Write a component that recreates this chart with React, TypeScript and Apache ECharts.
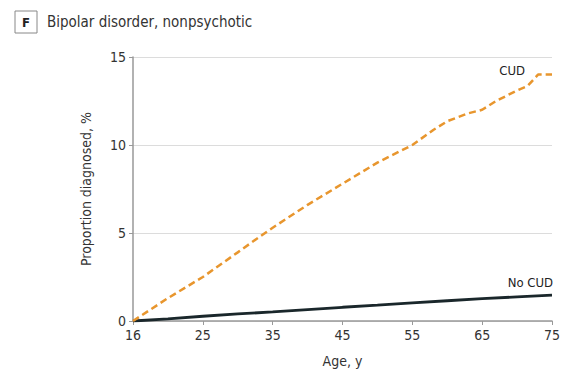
import React, { useEffect, useRef } from "react";
import * as echarts from "echarts";

const cudAges = [15, 20, 25, 30, 33, 35, 40, 45, 50, 55, 58, 60, 63, 65, 67, 70, 71.5, 73, 75];
const cudValues = [0, 1.3, 2.5, 3.9, 4.75, 5.3, 6.6, 7.8, 9.0, 10.0, 10.85, 11.35, 11.8, 12.0, 12.5, 13.1, 13.35, 14.0, 14.0];
const noCudAges = [15, 20, 25, 30, 35, 40, 45, 50, 55, 60, 65, 70, 75];
const noCudValues = [0, 0.12, 0.27, 0.4, 0.52, 0.65, 0.78, 0.9, 1.03, 1.15, 1.27, 1.37, 1.47];
const xTickLabels: Record<number, string> = { 15: "16", 25: "25", 35: "35", 45: "45", 55: "55", 65: "65", 75: "75" };
const yTicks = [0, 5, 10, 15];

const FONT = "'Liberation Sans Narrow', 'DejaVu Sans Condensed', sans-serif";

export default function App() {
  const ref = useRef<HTMLDivElement>(null);
  useEffect(() => {
    if (!ref.current) return;
    const chart = echarts.init(ref.current, null, { renderer: "svg" });
    chart.setOption({
      animation: false,
      backgroundColor: "#fff",
      textStyle: { fontFamily: FONT },
      grid: { left: 133, right: 16, top: 57, bottom: 52, containLabel: false },
      xAxis: {
        type: "value",
        min: 15,
        max: 75,
        interval: 10,
        name: "Age, y",
        nameLocation: "middle",
        nameGap: 33,
        nameTextStyle: { fontSize: 14, color: "#333", fontFamily: FONT },
        axisLine: { lineStyle: { color: "#999", width: 1.5 } },
        axisTick: { show: true, length: 4, lineStyle: { color: "#999" } },
        axisLabel: {
          fontSize: 14,
          color: "#333",
          margin: 7,
          fontFamily: FONT,
          formatter: (v: number) => xTickLabels[v] ?? "",
        },
        splitLine: { show: false },
      },
      yAxis: {
        type: "value",
        min: yTicks[0],
        max: yTicks[yTicks.length - 1],
        interval: 5,
        name: "Proportion diagnosed, %",
        nameLocation: "middle",
        nameGap: 40,
        nameRotate: 90,
        nameTextStyle: { fontSize: 14, color: "#333", fontFamily: FONT },
        axisLine: { show: true, lineStyle: { color: "#999", width: 1.5 } },
        axisTick: { show: true, length: 4, lineStyle: { color: "#999" } },
        axisLabel: { fontSize: 14, color: "#333", margin: 7, fontFamily: FONT },
        splitLine: { show: true, lineStyle: { color: "#dcdcdc", width: 1 } },
      },
      series: [
        {
          name: "No CUD",
          type: "line",
          showSymbol: false,
          data: noCudAges.map((a, i) => [a, noCudValues[i]]),
          lineStyle: { color: "#1a272b", width: 2.8 },
          z: 3,
        },
        {
          name: "CUD",
          type: "line",
          showSymbol: false,
          data: cudAges.map((a, i) => [a, cudValues[i]]),
          lineStyle: { color: "#e8962e", width: 2.5, type: [7, 4] },
          z: 4,
        },
      ],
      graphic: [
        {
          type: "rect",
          shape: { x: 15, y: 11, width: 22, height: 22 },
          style: { fill: "#fff", stroke: "#888", lineWidth: 1 },
        },
        {
          type: "text",
          x: 26,
          y: 22,
          style: {
            text: "F",
            fontSize: 13,
            fontWeight: "bold",
            fill: "#222",
            fontFamily: FONT,
            textAlign: "center",
            textVerticalAlign: "middle",
          },
        },
        {
          type: "text",
          x: 47,
          y: 22,
          style: {
            text: "Bipolar disorder, nonpsychotic",
            fontSize: 15,
            fill: "#333",
            fontFamily: FONT,
            textAlign: "left",
            textVerticalAlign: "middle",
          },
        },
        {
          type: "text",
          x: 525,
          y: 70,
          style: {
            text: "CUD",
            fontSize: 13,
            fill: "#222",
            fontFamily: FONT,
            textAlign: "right",
            textVerticalAlign: "middle",
          },
        },
        {
          type: "text",
          x: 553,
          y: 282,
          style: {
            text: "No CUD",
            fontSize: 13,
            fill: "#222",
            fontFamily: FONT,
            textAlign: "right",
            textVerticalAlign: "middle",
          },
        },
      ],
    });
    return () => chart.dispose();
  }, []);
  return <div ref={ref} style={{ width: 568, height: 373, position: "absolute", left: 0, top: 0 }} />;
}
